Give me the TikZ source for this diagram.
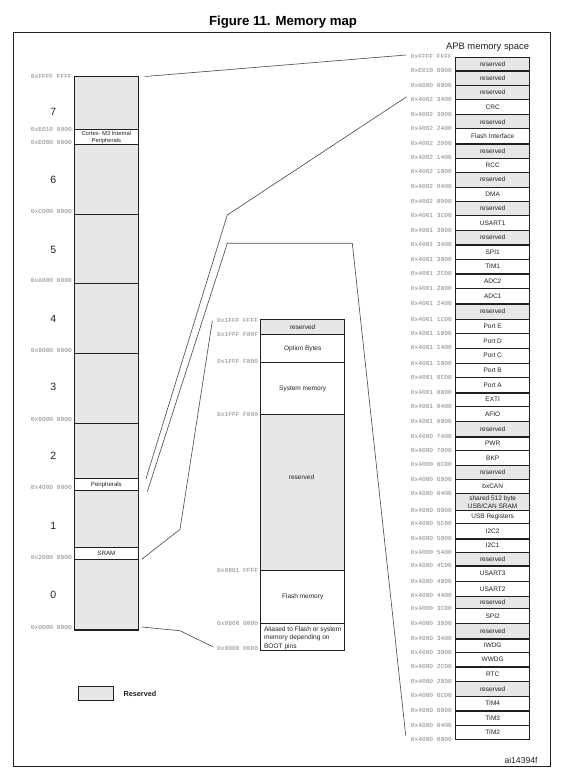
\documentclass[tikz,border=0pt]{standalone}
\usepackage{fontspec}
\setmainfont{Liberation Sans}
\setmonofont{Liberation Mono}
\definecolor{resv}{RGB}{230,231,232}
\definecolor{edge}{RGB}{35,31,32}
\definecolor{addrc}{RGB}{130,130,135}
\definecolor{conncol}{RGB}{80,80,80}
\newcommand\memcell[8][]{%
  \pgfmathsetmacro\cellh{#5-#4}%
  \node[cell, fill=#7, minimum width=#6pt, minimum height=\cellh pt, anchor=north west, #1] (#2) at (#3,#4) {#8};}
\begin{document}
\begin{tikzpicture}[x=1pt,y=-1pt,
  cell/.style={draw=edge, line width=0.75pt, inner sep=0pt, align=center, text=edge,
               font=\fontsize{6.5}{7.7}\selectfont},
  addr/.style={font=\fontsize{6.2}{7}\selectfont\ttfamily, text=addrc, inner sep=0pt, anchor=east},
  connline/.style={draw=conncol, line width=0.65pt},
  digit/.style={font=\fontsize{10.5}{12}\selectfont, text=edge, inner sep=0pt}]
\useasboundingbox (0,0) rectangle (564,774);

% title and frame
\node[font=\bfseries\fontsize{13.2}{15}\selectfont, inner sep=0pt] (title) at (283,22.5) {Figure 11. Memory map};
\draw[edge, line width=1pt] (13.3,32) rectangle (550,766);

% ---------- left column (full 4 GB map) ----------
\memcell{c7}{74}{76}{129.3}{64}{resv}{}
\memcell[font=\fontsize{5.8}{7.3}\selectfont]{cm3}{74}{129.3}{144.3}{64}{white}{Cortex- M3 Internal\\Peripherals}
\memcell{c6}{74}{144.3}{214.3}{64}{resv}{}
\memcell{c5}{74}{214.3}{283.3}{64}{resv}{}
\memcell{c4}{74}{283.3}{353.3}{64}{resv}{}
\memcell{c3}{74}{353.3}{423.3}{64}{resv}{}
\memcell{c2}{74}{423.3}{478.3}{64}{resv}{}
\memcell[font=\fontsize{6.1}{7}\selectfont]{cper}{74}{478.3}{490.3}{64}{white}{Peripherals}
\memcell{c1}{74}{490.3}{547.3}{64}{resv}{}
\memcell[font=\fontsize{6.2}{7}\selectfont]{csram}{74}{547.3}{559.3}{64}{white}{SRAM}
\memcell{c0}{74}{559.3}{629}{64}{resv}{}
\draw[edge, line width=1.6pt] (c0.south west) -- (c0.south east);

\foreach \y/\d in {112/7,180/6,250/5,319/4,387/3,456/2,526/1,595/0}
  \node[digit] (dig\d) at (53.3,\y) {\d};

\foreach \y/\lab [count=\i] in {76.7/0xFFFF FFFF,129.3/0xE010 0000,142/0xE000 0000,211/0xC000 0000,
   280/0xA000 0000,350/0x8000 0000,419/0x6000 0000,487/0x4000 0000,557/0x2000 0000,627/0x0000 0000}
  \node[addr] (la\i) at (72,\y) {\lab};

% ---------- middle column (block 0) ----------
\memcell{m1}{260.3}{319.3}{334.3}{84}{resv}{reserved}
\memcell{m2}{260.3}{334.3}{362.3}{84}{white}{Option Bytes}
\memcell{m3}{260.3}{362.3}{414.3}{84}{white}{System memory}
\memcell{m4}{260.3}{414.3}{570}{84}{resv}{}
\node[cell, draw=none, fill=none] (m4t) at (301.5,477.3) {reserved};
\memcell{m5}{260.3}{570}{622.7}{84}{white}{Flash memory}
\memcell[line width=1.1pt]{m6}{260.3}{622.7}{650}{84}{white}{}
\node[inner sep=0pt, anchor=north west, align=left, text=edge,
      font=\fontsize{6.6}{8.6}\selectfont] (m6t) at (263.8,626.2)
      {Aliased to Flash or system\\memory depending on\\BOOT pins};

\foreach \y/\lab [count=\i] in {320/0x1FFF FFFF,334/0x1FFF F80F,361/0x1FFF F800,414/0x1FFF F000,
   570/0x0801 FFFF,623.7/0x0800 0000,648.3/0x0000 0000}
  \node[addr] (ma\i) at (258.3,\y) {\lab};

% ---------- right column (APB memory space) ----------
\node[anchor=east, inner sep=0pt, text=edge, font=\fontsize{9.4}{11}\selectfont] (apbtitle) at (529.3,47.3) {APB memory space};

\foreach \tp/\bt/\lab/\fl [count=\i] in {
56.7/70.3/reserved/resv,
70.3/85/reserved/resv,
85/99/reserved/resv,
99/114.3/CRC/white,
114.3/128.3/reserved/resv,
128.3/143/Flash Interface/white,
143/157.7/reserved/resv,
157.7/171.7/RCC/white,
171.7/186.7/reserved/resv,
186.7/201/DMA/white,
201/215.3/reserved/resv,
215.3/230/USART1/white,
230/244.3/reserved/resv,
244.3/259.3/SPI1/white,
259.3/273.3/TIM1/white,
273.3/288.3/ADC2/white,
288.3/303/ADC1/white,
303/319/reserved/resv,
319/333.3/Port E/white,
333.3/347.7/Port D/white,
347.7/363/Port C/white,
363/377.3/Port B/white,
377.3/392.3/Port A/white,
392.3/406.3/EXTI/white,
406.3/421.3/AFIO/white,
421.3/436/reserved/resv,
436/450.3/PWR/white,
450.3/464.7/BKP/white,
464.7/479/reserved/resv,
479/493.3/bxCAN/white,
493.3/510/{shared 512 byte\\USB/CAN SRAM}/resv,
510/523.3/USB Registers/white,
523.3/538/I2C2/white,
538/552.3/I2C1/white,
552.3/565.3/reserved/resv,
565.3/581.3/USART3/white,
581.3/595.7/USART2/white,
595.7/608.3/reserved/resv,
608.3/623.3/SPI2/white,
623.3/638.3/reserved/resv,
638.3/652.3/IWDG/white,
652.3/666/WWDG/white,
666/681/RTC/white,
681/695.7/reserved/resv,
695.7/710.3/TIM4/white,
710.3/725/TIM3/white,
725/739.3/TIM2/white}
  {\memcell{apb\i}{455.3}{\tp}{\bt}{74}{\fl}{\lab}}

\foreach \k in {1,6,9,13,15,17,20,23,26,33,35,40,42,44,45}
  \draw[edge, line width=1.5pt] (apb\k.south west) -- (apb\k.south east);

\foreach \y/\lab [count=\i] in {56.7/0xFFFF FFFF, 70.3/0xE010 0000, 85/0x6000 0000, 99/0x4002 3400,
 114.3/0x4002 3000, 128.3/0x4002 2400, 143/0x4002 2000, 157.7/0x4002 1400, 171.7/0x4002 1000,
 186.7/0x4002 0400, 201/0x4002 0000, 215.3/0x4001 3C00, 230/0x4001 3800, 244.3/0x4001 3400,
 259.3/0x4001 3000, 273.3/0x4001 2C00, 288.3/0x4001 2800, 303/0x4001 2400, 319/0x4001 1C00,
 333.3/0x4001 1800, 347.7/0x4001 1400, 363/0x4001 1000, 377.3/0x4001 0C00, 392.3/0x4001 0800,
 406.3/0x4001 0400, 421.3/0x4001 0000, 436/0x4000 7400, 450.3/0x4000 7000, 464.7/0x4000 6C00,
 479/0x4000 6800, 493.3/0x4000 6400, 510/0x4000 6000, 523.3/0x4000 5C00, 538/0x4000 5800,
 552.3/0x4000 5400, 565.3/0x4000 4C00, 581.3/0x4000 4800, 595.7/0x4000 4400, 608.3/0x4000 3C00,
 623.3/0x4000 3800, 638.3/0x4000 3400, 652.3/0x4000 3000, 666/0x4000 2C00, 681/0x4000 2800,
 695.7/0x4000 0C00, 710.3/0x4000 0800, 725/0x4000 0400, 739.3/0x4000 0000}
  \node[addr] (ra\i) at (452,\y) {\lab};

% ---------- connectors ----------
\coordinate (k1a) at (145,76.5);   \coordinate (k1b) at (406,55);
\coordinate (k2a) at (146,478.7);  \coordinate (k2m) at (227.3,215);  \coordinate (k2b) at (406.7,96.7);
\coordinate (k3a) at (147.3,491.7);\coordinate (k3m) at (227.3,243.3);\coordinate (k3n) at (352.3,243.3);\coordinate (k3b) at (405.7,735.5);
\coordinate (k4a) at (141.7,559.3);\coordinate (k4m) at (180,529.3);  \coordinate (k4b) at (212.3,321);
\coordinate (k5a) at (141.7,627);  \coordinate (k5m) at (180,630.7);  \coordinate (k5b) at (213.3,647);
\draw[connline] (k1a) -- (k1b);
\draw[connline] (k2a) -- (k2m) -- (k2b);
\draw[connline] (k3a) -- (k3m) -- (k3n) -- (k3b);
\draw[connline] (k4a) -- (k4m) -- (k4b);
\draw[connline] (k5a) -- (k5m) -- (k5b);

% ---------- legend and reference ----------
\node[cell, fill=resv, minimum width=34.7pt, minimum height=13.7pt, anchor=north west] (leg) at (78,686) {};
\node[anchor=west, inner sep=0pt, text=edge, font=\bfseries\fontsize{7.3}{8}\selectfont] (legt) at (123.3,693.5) {Reserved};
\node[anchor=east, inner sep=0pt, text=edge, font=\fontsize{8.6}{10}\selectfont] (ref) at (537.7,760) {ai14394f};
\end{tikzpicture}
\end{document}
